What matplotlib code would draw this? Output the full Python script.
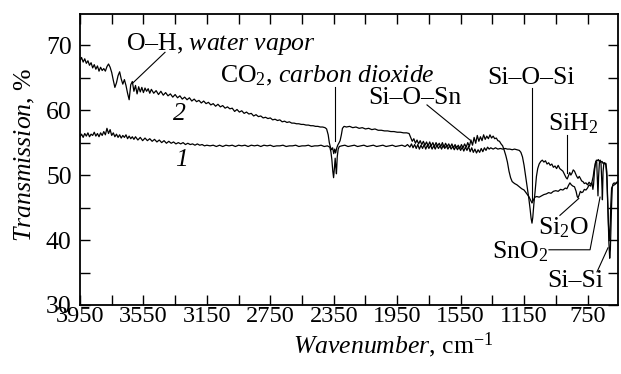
import matplotlib
matplotlib.use("Agg")
import matplotlib.pyplot as plt
from matplotlib.ticker import FixedLocator

plt.rcParams['font.family'] = ['Liberation Serif', 'DejaVu Serif']
plt.rcParams['mathtext.fontset'] = 'custom'
plt.rcParams['mathtext.rm'] = 'Liberation Serif'
plt.rcParams['mathtext.it'] = 'Liberation Serif:italic'
plt.rcParams['font.size'] = 18.5

# ---------------- data ----------------
w2 = [3950, 3940, 3930, 3920, 3910, 3900, 3890, 3880, 3870, 3860, 3850, 3840, 3830, 3820, 3810, 3800,
      3790, 3780, 3770, 3760, 3750, 3740, 3730, 3720, 3710, 3700, 3690, 3680, 3670, 3660, 3650, 3640,
      3630, 3620, 3610, 3600, 3590, 3580, 3570, 3560, 3550, 3540, 3530, 3520, 3510, 3500, 3485, 3470,
      3455, 3440, 3425, 3410, 3395, 3380, 3365, 3350, 3335, 3320, 3305, 3290, 3275, 3260, 3245, 3230,
      3215, 3200, 3185, 3170, 3155, 3140, 3125, 3110, 3095, 3080, 3065, 3050, 3035, 3020, 3005, 2990,
      2975, 2960, 2945, 2930, 2915, 2900, 2885, 2870, 2855, 2840, 2825, 2810, 2795, 2780, 2765, 2750,
      2735, 2720, 2705, 2690, 2675, 2660, 2645, 2630, 2615, 2600, 2585, 2570, 2555, 2540, 2525, 2510,
      2495, 2480, 2465, 2450, 2435, 2420, 2405, 2395, 2385, 2378, 2371, 2364, 2357, 2350, 2344, 2338,
      2332, 2325, 2318, 2310, 2302, 2295, 2285, 2270, 2250, 2230, 2210, 2190, 2170, 2150, 2130, 2110,
      2090, 2070, 2050, 2030, 2010, 1990, 1970, 1950, 1930, 1910, 1890, 1875, 1865, 1855, 1845, 1835,
      1825, 1815, 1805, 1795, 1785, 1775, 1765, 1755, 1745, 1735, 1725, 1715, 1705, 1695, 1685, 1675,
      1665, 1655, 1645, 1635, 1625, 1615, 1605, 1595, 1585, 1575, 1565, 1555, 1545, 1535, 1525, 1515,
      1505, 1495, 1485, 1475, 1465, 1455, 1445, 1435, 1425, 1415, 1405, 1395, 1385, 1375, 1365, 1355,
      1345, 1335, 1325, 1315, 1305, 1295, 1285, 1275, 1265, 1255, 1245, 1235, 1225, 1210, 1195, 1180,
      1165, 1150, 1135, 1120, 1110, 1100, 1092, 1082, 1070, 1055, 1040, 1025, 1010, 995, 980, 965,
      950, 935, 920, 905, 890, 880, 870, 861, 852, 842, 832, 822, 815, 810, 803, 795,
      787, 779, 770, 760, 750, 740, 730, 722, 714, 708, 703, 698, 692, 688, 684, 680,
      675, 670, 665, 660, 656, 652, 647, 641, 635, 629, 623, 618, 613, 608, 603, 598,
      590, 580, 570, 560]
t2 = [67.6, 68.1, 67.4, 67.9, 67.2, 67.6, 66.9, 67.3, 66.5, 67.0, 66.3, 66.8, 66.0, 66.6, 66.1, 66.4,
      66.0, 66.7, 67.1, 66.6, 65.8, 64.6, 63.5, 64.2, 65.3, 65.9, 64.8, 64.0, 64.7, 63.8, 62.6, 61.6,
      63.9, 64.4, 62.9, 63.8, 62.5, 63.6, 62.8, 63.5, 62.7, 63.4, 62.9, 63.3, 62.6, 63.2, 62.6, 63.0,
      62.4, 62.9, 62.3, 62.7, 62.2, 62.5, 62.0, 62.4, 61.9, 62.2, 61.7, 62.0, 61.6, 61.9, 61.4, 61.7,
      61.3, 61.5, 61.1, 61.4, 61.0, 61.2, 60.8, 61.0, 60.6, 60.9, 60.5, 60.7, 60.3, 60.5, 60.2, 60.3,
      59.8, 60.1, 59.7, 59.9, 59.5, 59.7, 59.4, 59.5, 59.1, 59.3, 59.0, 59.1, 58.8, 58.9, 58.7, 58.8,
      58.5, 58.6, 58.4, 58.5, 58.2, 58.3, 58.1, 58.2, 58.0, 58.0, 57.9, 57.9, 57.8, 57.8, 57.7, 57.7,
      57.6, 57.6, 57.5, 57.5, 57.4, 57.4, 57.3, 57.1, 56.2, 55.0, 54.3, 53.9, 54.2, 53.3, 54.0, 53.4,
      54.1, 54.6, 54.9, 55.3, 56.2, 57.2, 57.5, 57.4, 57.5, 57.3, 57.4, 57.2, 57.3, 57.1, 57.2, 57.0,
      57.1, 56.9, 56.9, 56.8, 56.8, 56.7, 56.7, 56.6, 56.6, 56.5, 56.5, 56.4, 55.8, 55.2, 55.6, 54.9,
      55.4, 54.8, 55.3, 54.7, 55.2, 54.6, 55.1, 54.5, 55.1, 54.5, 55.0, 54.4, 55.0, 54.5, 54.9, 54.4,
      55.0, 54.3, 54.9, 54.4, 54.8, 54.3, 54.8, 54.2, 54.7, 54.2, 54.6, 54.1, 54.7, 54.2, 54.8, 54.3,
      55.0, 54.4, 55.4, 54.6, 55.8, 54.9, 56.1, 55.2, 55.9, 55.3, 56.2, 55.5, 56.0, 55.6, 56.2, 55.7,
      56.0, 55.6, 55.7, 55.3, 55.2, 54.8, 54.5, 53.8, 53.0, 52.0, 50.6, 49.6, 49.0, 48.7, 48.5, 48.2,
      47.9, 47.7, 47.2, 46.7, 46.2, 45.7, 46.1, 46.6, 46.7, 46.6, 46.8, 47.0, 47.1, 47.3, 47.2, 47.5,
      47.6, 47.5, 47.8, 47.7, 48.0, 47.9, 48.4, 48.8, 48.5, 48.3, 48.2, 47.5, 46.7, 46.5, 46.9, 47.5,
      47.3, 47.4, 47.8, 47.7, 48.0, 48.5, 48.3, 48.9, 49.8, 50.9, 51.5, 52.1, 52.0, 49.5, 46.8, 49.8,
      51.9, 52.1, 51.9, 49.0, 46.2, 50.5, 51.8, 51.9, 51.6, 50.0, 46.0, 42.5, 40.0, 41.5, 45.5, 48.0,
      48.4, 48.5, 48.7, 48.9]

w1 = [3950, 3940, 3930, 3920, 3910, 3900, 3890, 3880, 3870, 3860, 3850, 3840, 3830, 3820, 3810, 3800,
      3790, 3780, 3770, 3760, 3750, 3740, 3730, 3720, 3710, 3700, 3690, 3680, 3670, 3660, 3650, 3640,
      3630, 3620, 3610, 3600, 3585, 3570, 3555, 3540, 3525, 3510, 3495, 3480, 3465, 3450, 3435, 3420,
      3405, 3390, 3375, 3360, 3345, 3330, 3315, 3300, 3285, 3270, 3255, 3240, 3225, 3210, 3195, 3180,
      3165, 3150, 3130, 3110, 3090, 3070, 3050, 3030, 3010, 2990, 2970, 2950, 2930, 2910, 2890, 2870,
      2850, 2830, 2810, 2790, 2770, 2750, 2730, 2710, 2690, 2670, 2650, 2630, 2610, 2590, 2570, 2550,
      2530, 2510, 2490, 2470, 2450, 2430, 2410, 2390, 2375, 2368, 2362, 2356, 2351, 2346, 2341, 2337,
      2333, 2328, 2322, 2315, 2300, 2280, 2260, 2240, 2220, 2200, 2180, 2160, 2140, 2120, 2100, 2080,
      2060, 2040, 2020, 2000, 1980, 1960, 1940, 1920, 1900, 1885, 1870, 1860, 1850, 1840, 1830, 1820,
      1810, 1800, 1790, 1780, 1770, 1760, 1750, 1740, 1730, 1720, 1710, 1700, 1690, 1680, 1670, 1660,
      1650, 1640, 1630, 1620, 1610, 1600, 1590, 1580, 1570, 1560, 1550, 1540, 1530, 1520, 1510, 1500,
      1490, 1480, 1470, 1460, 1450, 1440, 1430, 1420, 1410, 1400, 1390, 1380, 1370, 1360, 1345, 1330,
      1315, 1300, 1285, 1270, 1255, 1240, 1225, 1210, 1195, 1180, 1170, 1160, 1150, 1140, 1130, 1120,
      1112, 1106, 1100, 1095, 1088, 1080, 1072, 1064, 1055, 1045, 1035, 1025, 1015, 1005, 995, 985,
      975, 965, 955, 945, 935, 925, 915, 905, 895, 885, 878, 870, 862, 855, 848, 840,
      832, 825, 818, 810, 802, 795, 787, 779, 770, 760, 750, 740, 730, 722, 716, 712,
      706, 700, 694, 688, 682, 676, 670, 664, 658, 652, 646, 640, 634, 628, 624, 620,
      615, 610, 606, 602, 598, 594, 590, 582, 574, 566, 558]
t1 = [55.9, 56.3, 55.8, 56.4, 56.0, 56.5, 55.9, 56.3, 56.1, 56.6, 56.0, 56.4, 55.9, 56.5, 56.1, 56.7,
      56.2, 57.2, 56.4, 57.0, 56.1, 56.5, 55.9, 56.3, 55.8, 56.2, 55.7, 56.1, 55.8, 56.2, 55.6, 56.0,
      55.6, 55.9, 55.5, 55.9, 55.4, 55.8, 55.3, 55.7, 55.3, 55.6, 55.2, 55.5, 55.1, 55.4, 55.0, 55.3,
      54.9, 55.2, 54.9, 55.1, 54.8, 55.0, 54.8, 55.0, 54.7, 54.9, 54.7, 54.8, 54.6, 54.8, 54.6, 54.7,
      54.5, 54.6, 54.5, 54.6, 54.4, 54.6, 54.4, 54.6, 54.5, 54.6, 54.4, 54.6, 54.5, 54.6, 54.4, 54.6,
      54.5, 54.6, 54.4, 54.6, 54.5, 54.6, 54.4, 54.5, 54.5, 54.6, 54.4, 54.5, 54.5, 54.6, 54.4, 54.5,
      54.5, 54.6, 54.4, 54.5, 54.5, 54.6, 54.4, 54.5, 54.3, 53.6, 52.4, 50.6, 49.6, 51.0, 52.6, 51.2,
      50.2, 52.8, 54.0, 54.4, 54.5, 54.6, 54.4, 54.5, 54.6, 54.4, 54.5, 54.6, 54.4, 54.5, 54.6, 54.4,
      54.5, 54.6, 54.4, 54.5, 54.6, 54.4, 54.5, 54.6, 54.4, 54.7, 54.3, 54.8, 54.2, 54.7, 54.1, 54.7,
      54.0, 54.6, 54.1, 54.7, 54.0, 54.6, 54.1, 54.6, 54.0, 54.5, 54.0, 54.6, 54.1, 54.5, 54.0, 54.6,
      54.1, 54.5, 54.0, 54.5, 54.0, 54.4, 53.9, 54.4, 53.9, 54.3, 53.8, 54.3, 53.7, 54.3, 53.8, 54.4,
      53.6, 54.2, 53.5, 54.0, 53.4, 53.9, 53.5, 54.1, 53.6, 54.2, 53.8, 54.3, 54.0, 54.2, 54.0, 54.2,
      54.0, 54.1, 54.0, 54.1, 54.0, 54.0, 53.9, 54.0, 53.9, 53.8, 53.5, 52.8, 51.5, 49.8, 48.2, 46.4,
      44.8, 43.4, 42.6, 43.5, 45.6, 47.6, 49.8, 51.0, 51.7, 52.1, 52.3, 52.0, 52.2, 51.7, 51.9, 51.5,
      51.7, 51.2, 51.4, 51.0, 51.5, 51.0, 50.8, 50.6, 50.1, 49.6, 49.4, 49.9, 50.4, 50.0, 50.3, 50.8,
      50.6, 50.2, 49.8, 49.5, 49.8, 49.5, 49.1, 49.0, 48.7, 48.8, 48.5, 48.9, 48.6, 48.8, 47.8, 48.5,
      50.6, 51.8, 52.3, 52.2, 52.4, 52.1, 52.3, 52.0, 52.1, 51.8, 51.9, 51.7, 51.8, 50.5, 47.0, 43.0,
      39.5, 37.2, 38.5, 42.0, 45.5, 48.0, 48.6, 48.8, 48.7, 48.9, 49.0]

x_major = [3950, 3550, 3150, 2750, 2350, 1950, 1550, 1150, 750]
x_minor = [3750, 3350, 2950, 2550, 2150, 1750, 1350, 950]
y_major = [30, 40, 50, 60, 70]
y_minor = [35, 45, 55, 65]

# ---------------- figure ----------------
fig = plt.figure(figsize=(6.21, 3.74), dpi=100)
ax = fig.add_axes([0.1288, 0.1845, 0.8663, 0.7781])

ax.plot(w1, t1, color='black', lw=0.9)
ax.plot(w2, t2, color='black', lw=0.9)

ax.set_xlim(3950, 558)
ax.set_ylim(30, 74.8)
ax.xaxis.set_major_locator(FixedLocator(x_major))
ax.xaxis.set_minor_locator(FixedLocator(x_minor))
ax.yaxis.set_major_locator(FixedLocator(y_major))
ax.yaxis.set_minor_locator(FixedLocator(y_minor))
ax.tick_params(which='both', direction='in', top=True, right=True, length=7, width=1.0)
ax.tick_params(axis='x', which='major', pad=1, labelsize=17.5)
ax.tick_params(axis='y', which='major', pad=6, labelsize=18.5)
for s in ax.spines.values():
    s.set_linewidth(1.3)

fig.text(393 / 621, 1 - 353 / 374, r'$\mathit{Wavenumber}$, cm$^{-1}$', ha='center', va='baseline')
fig.text(25 / 621, 1 - 155 / 374, r'$\mathit{Transmission}$, %', ha='center', va='center', rotation=90)

fs = 18.5
tk = dict(color='black', lw=0.8)
# annotations
ax.text(3660, 69.2, r'O–H, $\mathit{water\ vapor}$', fontsize=fs, va='baseline')
ax.plot([3414, 3616], [68.9, 64.2], **tk)
ax.text(3067, 64.3, r'CO$_2$, $\mathit{carbon\ dioxide}$', fontsize=fs, va='baseline')
ax.plot([2342, 2342], [63.5, 55.2], **tk)
ax.text(2134, 60.9, 'Si–O–Sn', fontsize=fs, va='baseline')
ax.plot([1762, 1491], [60.8, 55.4], **tk)
ax.text(1384, 64.0, 'Si–O–Si', fontsize=fs, va='baseline')
ax.plot([1100, 1100], [63.4, 46.2], **tk)
ax.text(999, 56.9, r'SiH$_2$', fontsize=fs, va='baseline')
ax.plot([880, 880], [56.2, 50.3], **tk)
ax.text(1062, 40.8, r'Si$_2$O', fontsize=fs, va='baseline')
ax.plot([924, 805], [43.8, 46.4], **tk)
ax.text(1352, 37.2, r'SnO$_2$', fontsize=fs, va='baseline')
ax.plot([993, 734, 671], [38.5, 38.5, 46.6], **tk)
ax.text(1006, 32.8, 'Si–Si', fontsize=fs, va='baseline')
ax.plot([690, 621], [35.1, 38.8], **tk)

ax.text(3320, 59.4, '2', fontsize=fs, style='italic', ha='center', va='center')
ax.text(3307, 52.3, '1', fontsize=fs, style='italic', ha='center', va='center')

fig.savefig('out.png', dpi=100)
